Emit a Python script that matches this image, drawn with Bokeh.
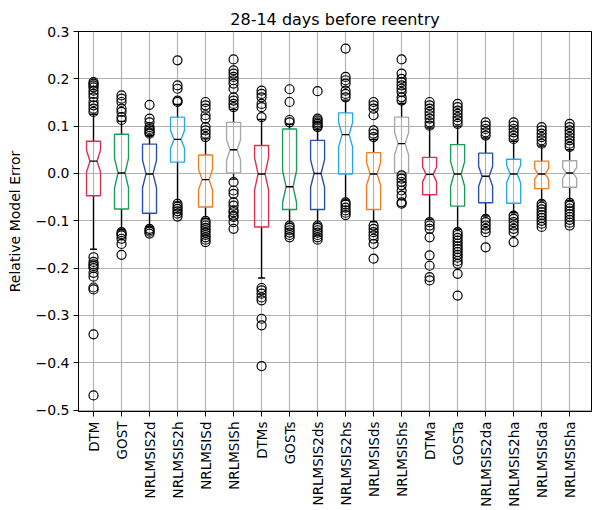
import math
from bokeh.plotting import figure
from bokeh.models import Range1d, FixedTicker
from bokeh.embed import file_html
from bokeh.resources import INLINE

categories = ["DTM", "GOST", "NRLMSIS2d", "NRLMSIS2h", "NRLMSISd", "NRLMSISh",
              "DTMs", "GOSTs", "NRLMSIS2ds", "NRLMSIS2hs", "NRLMSISds", "NRLMSIShs",
              "DTMa", "GOSTa", "NRLMSIS2da", "NRLMSIS2ha", "NRLMSISda", "NRLMSISha"]

q1 = [-0.047, -0.075, -0.084, 0.024, -0.071, 0.001, -0.113, -0.076, -0.076,
      -0.001, -0.076, 0.001, -0.045, -0.069, -0.062, -0.063, -0.032, -0.029]
median = [0.026, 0.001, -0.001, 0.072, -0.013, 0.050, -0.001, -0.028, 0.000,
          0.082, -0.001, 0.063, -0.002, -0.001, -0.006, -0.001, -0.001, 0.001]
q3 = [0.068, 0.083, 0.062, 0.119, 0.039, 0.108, 0.059, 0.094, 0.070,
      0.128, 0.044, 0.119, 0.034, 0.061, 0.043, 0.030, 0.026, 0.027]
whisker_low = [-0.160, -0.118, -0.112, -0.060, -0.095, -0.012, -0.221, -0.105, -0.105,
               -0.056, -0.102, -0.001, -0.097, -0.118, -0.090, -0.083, -0.058, -0.057]
whisker_high = [0.125, 0.110, 0.080, 0.146, 0.073, 0.135, 0.114, 0.104, 0.093,
                0.155, 0.072, 0.148, 0.096, 0.100, 0.075, 0.068, 0.058, 0.050]
sample_size = 62

outliers = [
    [0.193, 0.190, 0.186, 0.182, 0.175, 0.168, 0.161, 0.151, 0.144, 0.137, 0.130,
     -0.177, -0.187, -0.192, -0.196, -0.200, -0.210, -0.218, -0.241, -0.245, -0.340, -0.469],
    [0.165, 0.158, 0.151, 0.137, 0.130, 0.119, 0.113,
     -0.124, -0.128, -0.131, -0.138, -0.149, -0.172],
    [0.145, 0.116, 0.108, 0.098, 0.094, 0.091, 0.087, 0.084,
     -0.117, -0.120, -0.123, -0.127],
    [0.239, 0.186, 0.179, 0.154, 0.151,
     -0.064, -0.070, -0.075, -0.080, -0.085, -0.091],
    [0.151, 0.144, 0.137, 0.123, 0.116, 0.098, 0.091, 0.084, 0.077,
     -0.100, -0.105, -0.110, -0.115, -0.120, -0.125, -0.130, -0.135, -0.140, -0.145],
    [0.241, 0.218, 0.211, 0.204, 0.197, 0.190, 0.179, 0.161, 0.154, 0.147, 0.140,
     -0.018, -0.036, -0.043, -0.061, -0.068, -0.078, -0.082, -0.089, -0.092, -0.103, -0.117],
    [0.175, 0.168, 0.161, 0.147, 0.140, 0.119,
     -0.242, -0.247, -0.254, -0.262, -0.268, -0.307, -0.321, -0.407],
    [0.178, 0.151, 0.113, 0.108,
     -0.110, -0.115, -0.120, -0.125, -0.130, -0.135],
    [0.174, 0.116, 0.112, 0.108, 0.105, 0.101, 0.098,
     -0.110, -0.115, -0.120, -0.125, -0.130, -0.135, -0.140],
    [0.264, 0.204, 0.197, 0.190, 0.175, 0.168, 0.161,
     -0.061, -0.066, -0.072, -0.078, -0.083, -0.088],
    [0.151, 0.144, 0.137, 0.123, 0.091, 0.084, 0.077,
     -0.110, -0.117, -0.124, -0.131, -0.138, -0.149, -0.180],
    [0.241, 0.211, 0.200, 0.193, 0.186, 0.179, 0.172, 0.161, 0.154,
     -0.004, -0.011, -0.018, -0.025, -0.036, -0.047, -0.061, -0.064],
    [0.151, 0.144, 0.137, 0.130, 0.123, 0.116, 0.108, 0.101,
     -0.103, -0.110, -0.117, -0.135, -0.173, -0.195, -0.219, -0.226],
    [0.147, 0.140, 0.133, 0.126, 0.119, 0.112, 0.105,
     -0.124, -0.130, -0.136, -0.142, -0.148, -0.154, -0.160, -0.166, -0.172, -0.178,
     -0.185, -0.191, -0.212, -0.258],
    [0.108, 0.101, 0.094, 0.087, 0.080,
     -0.096, -0.103, -0.110, -0.117, -0.124, -0.156],
    [0.108, 0.101, 0.094, 0.087, 0.080, 0.073,
     -0.089, -0.096, -0.103, -0.110, -0.117, -0.124, -0.145],
    [0.098, 0.091, 0.084, 0.077, 0.070, 0.063,
     -0.064, -0.070, -0.076, -0.082, -0.088, -0.094, -0.100, -0.106, -0.113],
    [0.105, 0.098, 0.091, 0.084, 0.077, 0.070, 0.063, 0.056,
     -0.062, -0.068, -0.074, -0.080, -0.086, -0.092, -0.098, -0.104, -0.110],
]

y_ticks = [-0.5, -0.4, -0.3, -0.2, -0.1, 0.0, 0.1, 0.2, 0.3]

# styles
palette = ["#DC3050", "#1E9A5A", "#2B50AA", "#2AA8E4", "#F07F22", "#A8A8A8"]
FONT = "DejaVu Sans"
half_w = 0.25      # box half width (widths=0.5)
cap_hw = 0.125     # cap half width

positions = list(range(1, len(categories) + 1))
colors = [palette[i % len(palette)] for i in range(len(categories))]

p = figure(width=592, height=510, output_backend="svg", toolbar_location=None,
           x_range=Range1d(0.464, 18.78), y_range=Range1d(-0.503, 0.3),
           title="28-14 days before reentry",
           min_border_left=78, min_border_right=1, min_border_top=31, min_border_bottom=99)

p.title.align = "center"
p.title.text_font = FONT
p.title.text_font_size = "16px"
p.title.text_font_style = "normal"
p.title.text_color = "black"
p.title.standoff = 6

p.outline_line_color = "black"
p.outline_line_width = 1
p.outline_line_alpha = 1
p.background_fill_color = "white"
p.border_fill_color = "white"

for ax in (p.xaxis[0], p.yaxis[0]):
    ax.axis_line_color = "black"
    ax.major_tick_line_color = "black"
    ax.major_tick_out = 5
    ax.major_tick_in = 0
    ax.minor_tick_line_color = None
    ax.major_label_text_font = FONT
    ax.major_label_text_font_size = "14px"
    ax.major_label_text_color = "black"

p.xaxis.ticker = FixedTicker(ticks=positions)
p.xaxis.major_label_overrides = {pos: name for pos, name in zip(positions, categories)}
p.xaxis.major_label_orientation = math.pi / 2
p.xaxis.major_label_standoff = 5
p.xaxis.major_label_text_font_size = "13.5px"

p.yaxis.ticker = FixedTicker(ticks=y_ticks)
p.yaxis.major_label_overrides = {t: ("%.1f" % t).replace("-", "\u2212") for t in y_ticks}
p.yaxis.axis_label = "Relative Model Error"
p.yaxis.axis_label_text_font = FONT
p.yaxis.axis_label_text_font_size = "14px"
p.yaxis.axis_label_text_font_style = "normal"
p.yaxis.axis_label_text_color = "black"
p.yaxis.axis_label_standoff = 10
p.yaxis.major_label_standoff = 4

p.xgrid.ticker = FixedTicker(ticks=positions)
p.ygrid.ticker = FixedTicker(ticks=y_ticks)
for g in (p.xgrid[0], p.ygrid[0]):
    g.grid_line_color = "#b0b0b0"
    g.grid_line_width = 1.1

# whiskers
wx0, wy0, wx1, wy1 = [], [], [], []
for x, lo, a, b, hi in zip(positions, whisker_low, q1, q3, whisker_high):
    wx0 += [x, x]; wy0 += [lo, b]; wx1 += [x, x]; wy1 += [a, hi]
p.segment(x0=wx0, y0=wy0, x1=wx1, y1=wy1, line_color="black", line_width=1.4)

# caps
cx0, cy0, cx1 = [], [], []
for x, lo, hi in zip(positions, whisker_low, whisker_high):
    cx0 += [x - cap_hw, x - cap_hw]; cx1 += [x + cap_hw, x + cap_hw]; cy0 += [lo, hi]
p.segment(x0=cx0, y0=cy0, x1=cx1, y1=cy0, line_color="black", line_width=1.4)

# notched boxes
xs, ys = [], []
mx0, mx1 = [], []
for x, a, m, b in zip(positions, q1, median, q3):
    iqr = b - a
    nh = 1.57 * iqr / math.sqrt(sample_size)
    nlo, nhi = m - nh, m + nh
    L, R = x - half_w, x + half_w
    ml, mr = x - half_w / 2, x + half_w / 2
    xs.append([L, R, R, mr, R, R, L, L, ml, L, L])
    ys.append([a, a, nlo, m, nhi, b, b, nhi, m, nlo, a])
    mx0.append(ml); mx1.append(mr)
p.patches(xs=xs, ys=ys, fill_color=None, line_color=colors, line_width=1.4)

# medians
p.segment(x0=mx0, y0=median, x1=mx1, y1=median, line_color="black", line_width=1.4)

# fliers
fx, fy = [], []
for x, vals in zip(positions, outliers):
    fx += [x] * len(vals); fy += vals
p.scatter(x=fx, y=fy, marker="circle", size=9, fill_color=None,
          line_color="black", line_width=1.2)

open("out.html", "w").write(file_html(p, INLINE))
